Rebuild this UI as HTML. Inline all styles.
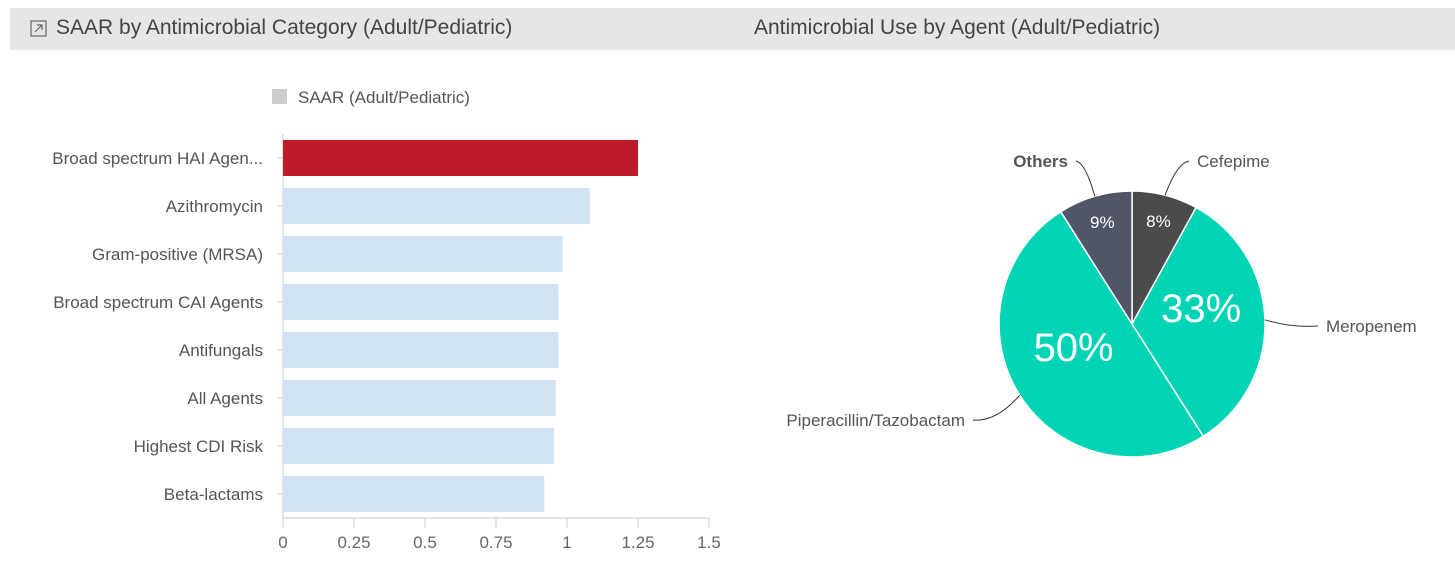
<!DOCTYPE html>
<html><head><meta charset="utf-8"><style>
body{margin:0;width:1455px;height:565px;background:#fff;font-family:"Liberation Sans",sans-serif;overflow:hidden;position:relative}
.hdr{position:absolute;left:10px;top:8px;width:1445px;height:42px;background:#e6e6e6}
.t{position:absolute;top:16px;font-size:21px;color:#444}
svg{position:absolute;left:0;top:0}
</style></head><body>
<div class="hdr"></div>
<svg width="22" height="22" style="left:28px;top:18px"><rect x="3" y="3" width="15" height="15" fill="none" stroke="#666" stroke-width="1.2"/><path d="M7 14 L14 7 M9 7 H14 V12" stroke="#666" fill="none" stroke-width="1.2"/></svg>
<div class="t" style="left:56px">SAAR by Antimicrobial Category (Adult/Pediatric)</div>
<div class="t" style="left:754px">Antimicrobial Use by Agent (Adult/Pediatric)</div>
<svg id="c" width="1455" height="565"></svg>
<script>
const categories=["Broad spectrum HAI Agen...","Azithromycin","Gram-positive (MRSA)","Broad spectrum CAI Agents","Antifungals","All Agents","Highest CDI Risk","Beta-lactams"];
const saar=[1.25,1.08,0.985,0.97,0.97,0.96,0.955,0.92];
const ticks=[0,0.25,0.5,0.75,1,1.25,1.5];
const tickLabels=["0","0.25","0.5","0.75","1","1.25","1.5"];
const agents=["Cefepime","Meropenem","Piperacillin/Tazobactam","Others"];
const shares=[8,33,50,9];
const ns="http://www.w3.org/2000/svg",svg=document.getElementById('c');
function mk(t,a,p){const e=document.createElementNS(ns,t);for(const k in a)e.setAttribute(k,a[k]);(p||svg).appendChild(e);return e;}
const x=v=>283+v*284, y=i=>134+i*48;
let lg=mk('rect',{x:272,y:89,width:15,height:15,fill:'#ccc'});

let lt=mk('text',{x:298,y:103,'font-size':17,fill:'#555'});lt.textContent='SAAR (Adult/Pediatric)';

mk('line',{x1:283,y1:134,x2:283,y2:518,stroke:'#ccc'});
mk('line',{x1:283,y1:518,x2:709,y2:518,stroke:'#ccc'});
ticks.forEach((t,i)=>{mk('line',{x1:x(t),y1:518,x2:x(t),y2:528,stroke:'#ccc'});
 const tx=mk('text',{x:x(t),y:548,'font-size':17,fill:'#666','text-anchor':'middle'});tx.textContent=tickLabels[i];
 });
categories.forEach((c,i)=>{const cy=y(i)+24;
 mk('line',{x1:277,y1:cy,x2:283,y2:cy,stroke:'#ccc'});
 const b=mk('rect',{x:283,y:cy-18,width:x(saar[i])-283,height:36,fill:i==0?'#be1a27':'#cfe3f3'});
 
 const l=mk('text',{x:263,y:cy+6,'font-size':17,fill:'#555','text-anchor':'end'});l.textContent=c;
 });
// pie
const cx=1132,cy=324,r=133,cols=['#4b4b4b','#00d4b4','#00d4b4','#505668'];
const lab=[{x:1197,y:167,a:'start',b:false},{x:1326,y:332,a:'start',b:false},{x:965,y:426,a:'end',b:false},{x:1068,y:167,a:'end',b:true}];
let acc=0;
shares.forEach((s,i)=>{const a0=acc/100*2*Math.PI,a1=(acc+s)/100*2*Math.PI;acc+=s;
 const p=a=>[cx+r*Math.sin(a),cy-r*Math.cos(a)];const [x0,y0]=p(a0),[x1,y1]=p(a1);
 const sl=mk('path',{d:`M${cx},${cy}L${x0},${y0}A${r},${r} 0 ${s>50?1:0} 1 ${x1},${y1}Z`,fill:cols[i],stroke:'#fff','stroke-width':1.5});
 
 const am=(a0+a1)/2,big=s>20,rr=big?r*0.52:r*0.8;
 const pt=mk('text',{x:cx+rr*Math.sin(am),y:cy-rr*Math.cos(am)+(big?0:6),'font-size':big?40:17,fill:'#fff','text-anchor':'middle'});pt.textContent=s+'%';
 
 const [ex,ey]=[cx+r*Math.sin(am),cy-r*Math.cos(am)],L=lab[i];
 const lx=L.a=='start'?L.x-8:L.x+8;
 mk('path',{d:`M${ex},${ey}Q${(ex+lx)/2},${L.y-4} ${lx},${L.y-6}`,stroke:'#333',fill:'none','stroke-width':1});
 const tt=mk('text',{x:L.x,y:L.y,'font-size':17,fill:'#555','font-weight':L.b?'bold':'normal','text-anchor':L.a});tt.textContent=agents[i];
 });
</script>
</body></html>
